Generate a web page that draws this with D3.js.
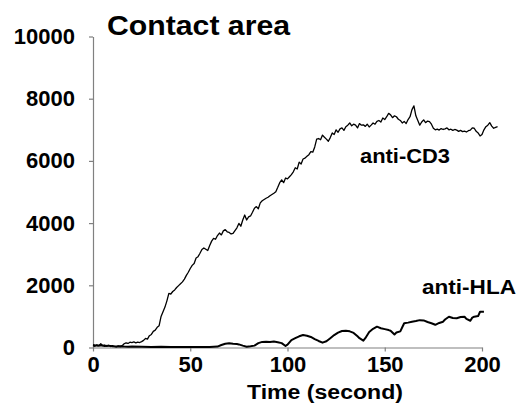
<!DOCTYPE html>
<html><head><meta charset="utf-8">
<script src="https://cdn.jsdelivr.net/npm/d3@7"></script>
<style>
html,body{margin:0;padding:0;background:#fff;}
svg{display:block;font-family:"Liberation Sans",Arial,sans-serif;}
</style></head>
<body><svg id="chart" width="518" height="406"></svg>
<script>
// ---- data ----
const chartTitle = "Contact area";
const xAxisTitle = "Time (second)";
const xTicks = [0, 50, 100, 150, 200];
const yTicks = [0, 2000, 4000, 6000, 8000, 10000];
const seriesNames = ["anti-CD3", "anti-HLA"];

const cd3Time = [0,1,2,3,4,5,6,7,8,9,10,11,12,13,14,15,16,17,18,19,20,21,22,23,24,25,26,27,28,29,30,31,32,33,34,35,36,37,38,39,40,41,42,43,44,45,46,47,48,49,50,51,52,53,54,55,56,57,58,59,60,61,62,63,64,65,66,67,68,69,70,71,72,73,74,75,76,77,78,79,80,81,82,83,84,85,86,87,88,89,90,91,92,93,94,95,96,97,98,99,100,101,102,103,104,105,106,107,108,109,110,111,112,113,114,115,116,117,118,119,120,121,122,123,124,125,126,127,128,129,130,131,132,133,134,135,136,137,138,139,140,141,142,143,144,145,146,147,148,149,150,151,152,153,154,155,156,157,158,159,160,161,162,163,164,165,166,167,168,169,170,171,172,173,174,175,176,177,178,179,180,181,182,183,184,185,186,187,188,189,190,191,192,193,194,195,196,197,198,199,200,201,202,203,204,205,206,207,208];
const cd3Values = [60,40,90,50,120,60,80,40,70,30,60,40,20,50,30,60,120,150,130,170,160,180,150,175,160,190,230,290,270,380,420,520,560,650,700,1000,1150,1300,1500,1740,1720,1800,1850,1930,1990,2050,2110,2200,2320,2420,2540,2640,2700,2880,2920,3030,3150,3200,3160,3120,3280,3420,3510,3480,3600,3680,3620,3750,3790,3720,3700,3650,3670,3760,3850,3990,3900,4100,4260,4100,4200,4230,4350,4480,4530,4460,4650,4720,4760,4800,4830,4880,4920,4960,5010,5150,5300,5390,5300,5450,5420,5490,5560,5650,5780,5740,5960,5900,6060,6090,6150,6200,6300,6280,6450,6700,6720,6680,6830,6760,6700,6630,6750,6900,6850,7000,6920,7030,7060,6980,7100,7150,7220,7130,7180,7150,7060,7200,7150,7160,7110,7180,7090,7150,7220,7180,7270,7300,7250,7380,7330,7420,7530,7480,7390,7450,7420,7340,7300,7220,7270,7200,7330,7420,7650,7770,7450,7300,7150,7250,7320,7230,7280,7260,7180,7050,7000,7020,6990,7040,7010,7030,7060,7000,7020,6980,7010,6990,6950,6980,6940,6960,6930,6970,6990,7060,7050,6950,6900,6800,6850,7000,7100,7150,7230,7120,7050,7080,7100];

const hlaTime = [0,2,4,6,8,10,12,14,16,18,20,25,30,35,40,45,50,55,60,64,66,68,70,72,74,75,77,79,81,83,85,87,89,91,93,95,97,99,100,102,104,106,108,110,112,114,116,118,120,122,124,126,128,130,132,134,136,137,139,140,142,144,146,148,150,152,153,155,156,158,159,160,162,164,166,168,170,172,174,176,178,180,181,183,185,187,189,191,192,194,195,196,198,199,201];
const hlaValues = [80,60,70,50,60,40,30,40,30,25,30,25,20,25,20,15,20,15,20,30,80,120,135,120,110,100,60,25,40,60,140,180,185,175,190,170,140,50,90,240,300,360,400,380,340,270,210,155,200,300,400,480,530,540,520,470,360,300,220,300,500,600,670,620,590,560,540,420,480,520,650,780,800,830,850,880,870,820,780,730,790,830,900,990,950,940,980,990,920,860,960,990,1010,1150,1150];

// ---- layout ----
const svg = d3.select("#chart");
const x = d3.scaleLinear().domain([0, 200]).range([93, 482]);
const y = d3.scaleLinear().domain([0, 10000]).range([347.5, 36.5]);
const axisColor = "#808080";

const yAxis = svg.append("g").attr("transform", "translate(93,0)")
  .call(d3.axisLeft(y).tickValues(yTicks).tickFormat(d3.format("d")).tickSize(4).tickSizeOuter(0).tickPadding(14));
const xAxis = svg.append("g").attr("transform", "translate(0,347.5)")
  .call(d3.axisBottom(x).tickValues(xTicks).tickFormat(d3.format("d")).tickSize(4).tickSizeOuter(0).tickPadding(5));
[yAxis, xAxis].forEach(g => {
  g.select(".domain").attr("stroke", axisColor).attr("stroke-width", 1.2);
  g.selectAll(".tick line").attr("stroke", axisColor).attr("stroke-width", 1.2);
  g.selectAll(".tick text").attr("fill", "#000").attr("font-size", 22).attr("font-weight", "bold")
    .attr("font-family", '"Liberation Sans",Arial,sans-serif');
});

const line = d3.line().x(d => x(d[0])).y(d => y(d[1]));
const cd3 = cd3Time.map((t, i) => [t, cd3Values[i]]);
const hla = hlaTime.map((t, i) => [t, hlaValues[i]]);

svg.append("path").datum(hla).attr("d", line).attr("fill", "none")
  .attr("stroke", "#000").attr("stroke-width", 2).attr("stroke-linejoin", "round");
svg.append("path").datum(cd3).attr("d", line).attr("fill", "none")
  .attr("stroke", "#000").attr("stroke-width", 1.3).attr("stroke-linejoin", "round");

// ---- text ----
svg.append("text").attr("x", 107).attr("y", 35).attr("font-size", 28).attr("font-weight", "bold")
  .attr("textLength", 183).attr("lengthAdjust", "spacingAndGlyphs").text(chartTitle);
svg.append("text").attr("x", 247).attr("y", 399).attr("font-size", 20).attr("font-weight", "bold")
  .attr("textLength", 156).attr("lengthAdjust", "spacingAndGlyphs").text(xAxisTitle);
svg.append("text").attr("x", 360).attr("y", 163).attr("font-size", 21).attr("font-weight", "bold")
  .attr("textLength", 90).attr("lengthAdjust", "spacingAndGlyphs").text(seriesNames[0]);
svg.append("text").attr("x", 422).attr("y", 294).attr("font-size", 21).attr("font-weight", "bold")
  .attr("textLength", 94).attr("lengthAdjust", "spacingAndGlyphs").text(seriesNames[1]);
</script></body></html>
